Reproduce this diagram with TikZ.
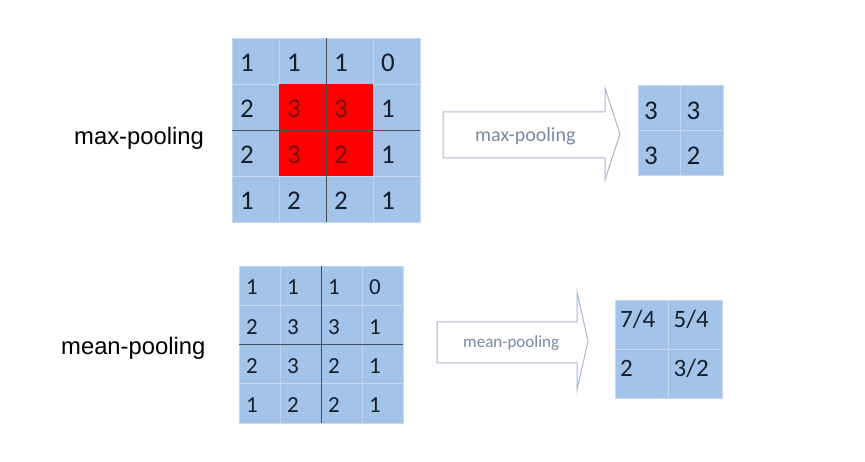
\documentclass[tikz,border=0pt]{standalone}
\usepackage{fontspec}
\setmainfont{Carlito}
\newfontfamily\arial{Liberation Sans}
\definecolor{cellblue}{RGB}{163,195,233}
\definecolor{cellline}{RGB}{198,215,238}
\definecolor{midline}{RGB}{72,80,94}
\definecolor{digit}{RGB}{22,30,46}
\definecolor{maxred}{RGB}{255,0,0}
\definecolor{reddigit}{RGB}{120,10,10}
\definecolor{arrowline}{RGB}{168,184,206}
\definecolor{arrowtext}{RGB}{118,138,164}
\def\maxdata{{1,1,1,0},{2,3,3,1},{2,3,2,1},{1,2,2,1}}

\begin{document}
\begin{tikzpicture}[x=1pt, y=-1pt,
	cell/.style={draw=cellline, fill=cellblue, line width=0.8pt, inner sep=0pt},
	num/.style={anchor=base west, inner sep=0pt, text=digit},
	midsep/.style={draw=midline, line width=1.2pt},
	pool/.style={draw=arrowline, fill=white, line width=1pt},
	pooltext/.style={anchor=base west, inner sep=0pt, text=arrowtext},
	side/.style={anchor=base west, inner sep=0pt, font=\arial\fontsize{23.8}{26}\selectfont}]
	\useasboundingbox (0,0) rectangle (865,462);
	% max-pooling
	\foreach \row [count=\r] in \maxdata
		\foreach \v [count=\c] in \row
			\node[cell, minimum width=47pt, minimum height=46pt] (m\r\c) at ({232+47*(\c-0.5)},{38+46*(\r-0.5)}) {};
	\fill[maxred] (m22.north west) rectangle (m33.south east);
	\draw[midsep] (m12.north east) -- (m42.south east);
	\draw[midsep] (m21.south west) -- (m24.south east);
	\foreach \row [count=\r] in \maxdata
		\foreach \v [count=\c] in \row {
			\pgfmathtruncatemacro\hot{(\r>1)&&(\r<4)&&(\c>1)&&(\c<4)}
			\ifnum\hot=1 \def\ctext{reddigit}\else\def\ctext{digit}\fi
			\node[num, text=\ctext, font=\fontsize{27}{30}\selectfont] (mv\r\c) at ({232+47*(\c-1)+8},{38+46*(\r-1)+34}) {\v};
		}
	\draw[pool] (443,112) -- (605,112) -- (605,88) -- (620,134) -- (605,180) -- (605,158) -- (443,158) -- cycle;
	\node[pooltext, font=\fontsize{20}{24}\selectfont] (maxop) at (475,142) {max-pooling};
	\foreach \row [count=\r] in {{3,3},{3,2}}
		\foreach \v [count=\c] in \row {
			\node[cell, minimum width=42.5pt, minimum height=45pt] (mo\r\c) at ({638+42.5*(\c-0.5)},{85+45*(\r-0.5)}) {};
			\node[num, font=\fontsize{27}{30}\selectfont] (mov\r\c) at ({638+42.5*(\c-1)+6},{85+45*(\r-1)+35}) {\v};
		}
	\node[side] (maxlabel) at (74,145) {max-pooling};
	% mean-pooling
	\foreach \row [count=\r] in \maxdata
		\foreach \v [count=\c] in \row {
			\node[cell, minimum width=41pt, minimum height=39.25pt] (a\r\c) at ({239+41*(\c-0.5)},{266+39.25*(\r-0.5)}) {};
			\node[num, font=\fontsize{23}{26}\selectfont] (av\r\c) at ({239+41*(\c-1)+7},{266+39.25*(\r-1)+29}) {\v};
		}
	\draw[midsep] (a12.north east) -- (a42.south east);
	\draw[midsep] (a21.south west) -- (a24.south east);
	\draw[pool] (437,322) -- (577,322) -- (577,292) -- (588,341) -- (577,390) -- (577,363) -- (437,363) -- cycle;
	\node[pooltext, font=\fontsize{17}{20}\selectfont] (meanop) at (463,348) {mean-pooling};
	\foreach \row [count=\r] in {{7/4,5/4},{2,3/2}}
		\foreach \v [count=\c] in \row {
			\node[cell, minimum width=53.5pt, minimum height=49pt] (ao\r\c) at ({615+53.5*(\c-0.5)},{300+49*(\r-0.5)}) {};
			\node[num, font=\fontsize{25}{28}\selectfont] (aov\r\c) at ({615+53.5*(\c-1)+5},{300+49*(\r-1)+28}) {\v};
		}
	\node[side] (meanlabel) at (61,355) {mean-pooling};
\end{tikzpicture}
\end{document}
